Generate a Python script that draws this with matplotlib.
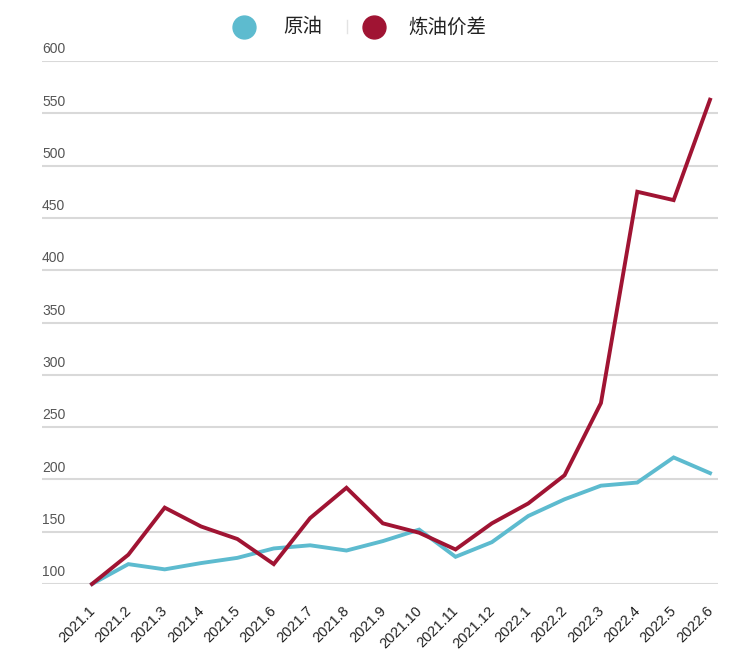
import matplotlib
matplotlib.use('Agg')
import matplotlib.pyplot as plt
from matplotlib.lines import Line2D
from matplotlib.transforms import ScaledTranslation

plt.rcParams['font.family'] = ['Liberation Sans', 'Noto Sans CJK SC', 'DejaVu Sans']

months = ['2021.1', '2021.2', '2021.3', '2021.4', '2021.5', '2021.6', '2021.7', '2021.8', '2021.9',
          '2021.10', '2021.11', '2021.12', '2022.1', '2022.2', '2022.3', '2022.4', '2022.5', '2022.6']
crude = [100, 119, 114, 120, 125, 134, 137, 132, 141, 152, 126, 140, 165, 181, 194, 197, 221, 206]
margin = [100, 128, 173, 155, 143, 119, 163, 192, 158, 149, 133, 158, 177, 204, 273, 475, 467, 563]
yticks = [100, 150, 200, 250, 300, 350, 400, 450, 500, 550, 600]
series_names = ['原油', '炼油价差']

blue = '#5DBBCF'
red = '#A01433'

fig = plt.figure(figsize=(7.52, 6.51), dpi=100)
W, H = 752, 651
ax = fig.add_axes([42 / W, 1 - 584 / H, (718 - 42) / W, (584 - 61) / H])

x = list(range(len(months)))
ax.plot(x, crude, color=blue, lw=2.8, solid_joinstyle='miter', zorder=3, clip_on=False)
ax.plot(x, margin, color=red, lw=2.8, solid_joinstyle='miter', zorder=4, clip_on=False)

ax.set_ylim(100, 600)
ax.set_xlim(-1.375, 17.22)

# gridlines, each value label sitting just above its line
for v in yticks:
    ax.axhline(v, color='#D9D9D9', lw=1.5, zorder=1)
    ax.text(0, v + 4.5, str(v), transform=ax.get_yaxis_transform(), ha='left', va='bottom',
            fontsize=10, color='#555555')
ax.set_yticks([])

ax.set_xticks(x)
ax.set_xticklabels(months, rotation=45, ha='right', rotation_mode='anchor',
                   fontsize=10.5, color='#222222')
ax.tick_params(axis='x', length=0, pad=14)
shift = ScaledTranslation(-3 / 72, 0, fig.dpi_scale_trans)
for lbl in ax.get_xticklabels():
    lbl.set_transform(lbl.get_transform() + shift)
for s in ax.spines.values():
    s.set_visible(False)

# legend drawn by hand: dot, name, thin separator
def fx(px):
    return px / W

def fy(py):
    return 1 - py / H

cjk = ['Noto Sans CJK SC', 'DejaVu Sans']
for cx, tx, col, name in [(244, 283, blue, series_names[0]), (374, 408, red, series_names[1])]:
    fig.add_artist(Line2D([fx(cx)], [fy(27)], ls='none', marker='o', ms=16.5, color=col))
    fig.text(fx(tx), fy(27), name, ha='left', va='center', fontsize=14, color='#222222',
             family=cjk)
fig.add_artist(Line2D([fx(347), fx(347)], [fy(20), fy(33)], color='#E3E3E3', lw=1))

fig.savefig('out.png', dpi=100)
